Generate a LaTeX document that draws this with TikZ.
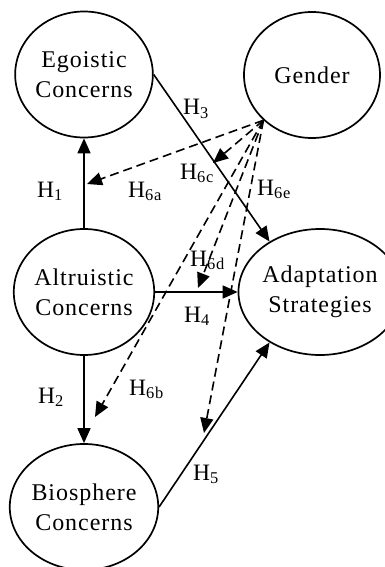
\documentclass[tikz,border=0pt]{standalone}
\usepackage{fontspec}
\setmainfont{Liberation Serif}[LetterSpace=4]
\usetikzlibrary{arrows.meta,shapes.geometric}
\begin{document}
\begin{tikzpicture}[x=1pt,y=-1pt,
  circ/.style={draw, ellipse, line width=1.7pt, minimum width=136pt, minimum height=126pt, inner sep=0pt, align=center, font=\fontsize{24}{30}\selectfont},
  solidarr/.style={line width=1.6pt, -{Triangle[length=15pt,width=13pt]}},
  dasharr/.style={line width=1.6pt, dash pattern=on 9pt off 5pt, -{Triangle[length=15pt,width=13pt]}},
  lab/.style={font=\fontsize{23.5}{24}\selectfont, inner sep=0pt, anchor=base west}]
\useasboundingbox (0,0) rectangle (385,567);
\begin{scope}
\clip (0,0) rectangle (385,567);
\node[circ] (ego) at (84,74.5) {Egoistic\\Concerns};
\node[circ] (gen) at (312,75) {Gender};
\node[circ] (alt) at (84,292) {Altruistic\\Concerns};
\node[circ] (ada) at (320,292) {Adaptation\\Strategies};
\node[circ] (bio) at (84,507) {Biosphere\\Concerns};

\coordinate (g0) at (gen.223);
\coordinate (e6a) at (87,184);
\coordinate (e6c) at (213,163);
\coordinate (e6d) at (198,288);
\coordinate (e6b) at (95,417);
\coordinate (e6e) at (204,433);

\draw[solidarr] (alt) -- (ego);
\draw[solidarr] (alt) -- (bio);
\draw[solidarr] (ego.east) -- (ada.135);
\draw[solidarr] (alt.east) -- (ada.west);
\draw[solidarr] (bio.east) -- (ada.225);

\draw[dasharr] (g0) -- (e6a);
\draw[dasharr] (g0) -- (e6c);
\draw[dasharr] (g0) -- (e6d);
\draw[dasharr] (g0) -- (e6b);
\draw[dasharr] (g0) -- (e6e);

\node[lab] (l3) at (183,115) {H\textsubscript{3}};
\node[lab] (l6c) at (180,179) {H\textsubscript{6c}};
\node[lab] (l6e) at (257,195) {H\textsubscript{6e}};
\node[lab] (l1) at (37,197) {H\textsubscript{1}};
\node[lab] (l6a) at (128,197) {H\textsubscript{6a}};
\node[lab] (l6d) at (190,266) {H\textsubscript{6d}};
\node[lab] (l4) at (184,322) {H\textsubscript{4}};
\node[lab] (l2) at (38,403) {H\textsubscript{2}};
\node[lab] (l6b) at (129,395) {H\textsubscript{6b}};
\node[lab] (l5) at (193,480) {H\textsubscript{5}};
\end{scope}
\end{tikzpicture}
\end{document}
